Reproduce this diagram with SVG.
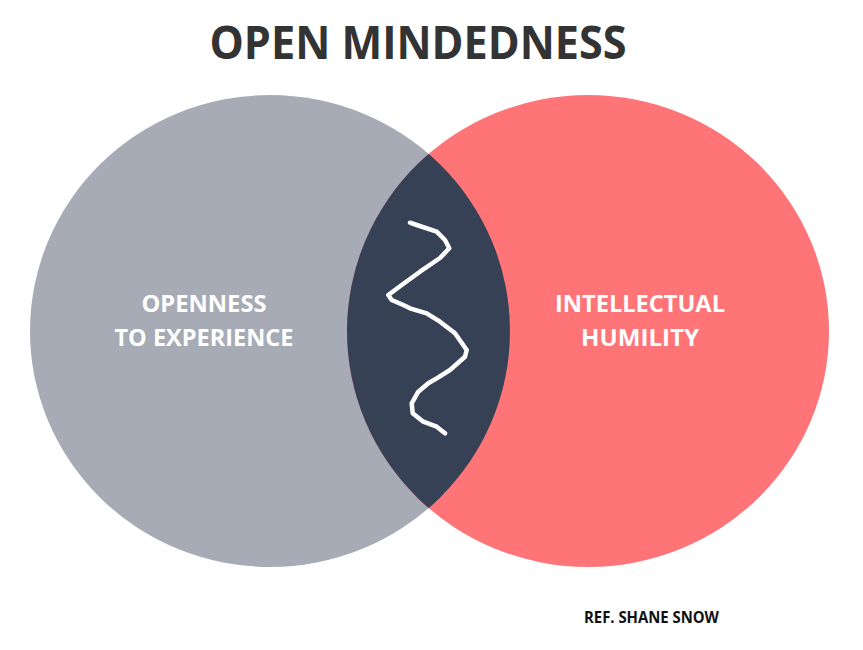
<svg xmlns="http://www.w3.org/2000/svg" width="863" height="650" viewBox="0 0 863 650">
<style>
.t{font-family:"Open Sans","Liberation Sans",sans-serif;font-weight:bold;}
.lbl{fill:#ffffff;font-size:24px;text-anchor:middle;}
</style>
<defs>
<clipPath id="clipL"><ellipse cx="270" cy="331" rx="240" ry="236"/></clipPath>
</defs>
<rect width="863" height="650" fill="#ffffff"/>
<text class="t" x="418" y="59" font-size="47" fill="#333333" text-anchor="middle" textLength="417" lengthAdjust="spacingAndGlyphs">OPEN MINDEDNESS</text>
<g id="circle-left">
<ellipse cx="270" cy="331" rx="240" ry="236" fill="#A6ABB5"/>
<text class="t lbl" x="204" y="312" textLength="125" lengthAdjust="spacingAndGlyphs">OPENNESS</text>
<text class="t lbl" x="204" y="346" textLength="179" lengthAdjust="spacingAndGlyphs">TO EXPERIENCE</text>
</g>
<g id="circle-right">
<ellipse cx="588" cy="331" rx="241" ry="236" fill="#FF7477"/>
<text class="t lbl" x="640" y="312" textLength="170" lengthAdjust="spacingAndGlyphs">INTELLECTUAL</text>
<text class="t lbl" x="640" y="346" textLength="118" lengthAdjust="spacingAndGlyphs">HUMILITY</text>
</g>
<g id="intersection">
<ellipse cx="588" cy="331" rx="241" ry="236" fill="#364156" clip-path="url(#clipL)"/>
</g>
<g id="connectors">
<path d="M410,222.7 L416.7,225 L436.7,231.7 L445,240 L449.3,248.3 L440,258 L420,271.7 L401.7,285 L388.3,295 L391.7,300 L403.3,305 L410,308.3 L426.7,313.3 L440,321.7 L455,333.3 L466.7,350 L465,356.7 L450,370 L436.7,378.3 L428.3,383.3 L418.3,391.7 L411.7,403.3 L412.7,413.3 L423.3,421.7 L436.7,426.7 L445,433.3" fill="none" stroke="#ffffff" stroke-width="4.5" stroke-linecap="round" stroke-linejoin="round"/>
</g>
<text class="t" x="584" y="623" font-size="16" fill="#111111" textLength="135" lengthAdjust="spacingAndGlyphs">REF. SHANE SNOW</text>
</svg>
